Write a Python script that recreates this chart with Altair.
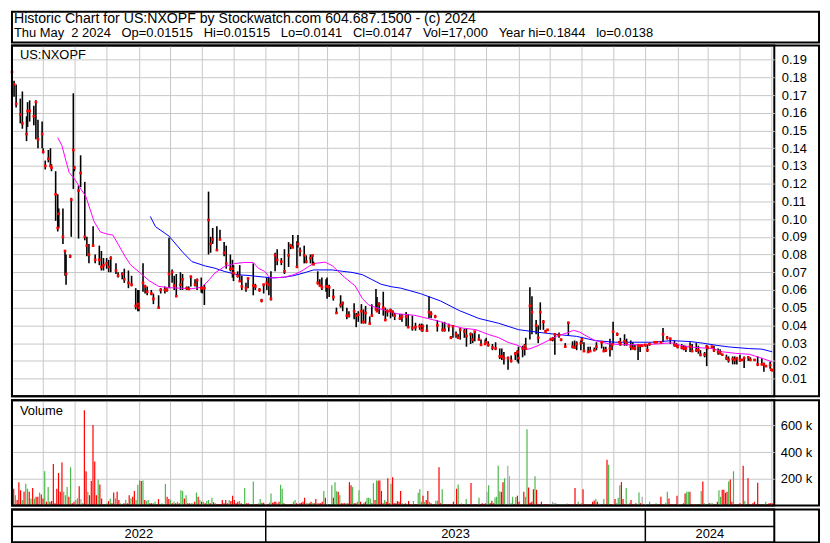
import altair as alt
import numpy as np
import pandas as pd

# ---------------- text ----------------
title_line = "Historic Chart for US:NXOPF by Stockwatch.com 604.687.1500 - (c) 2024"
quote_line = "Thu May  2 2024   Op=0.01515   Hi=0.01515   Lo=0.0141   Cl=0.0147   Vol=17,000   Year hi=0.1844   lo=0.0138"
symbol = "US:NXOPF"
volume_title = "Volume"

# ---------------- price bars (read per month, every ~2 trading days) ----------------
months = ["2022-05", "2022-06", "2022-07", "2022-08", "2022-09", "2022-10", "2022-11", "2022-12",
          "2023-01", "2023-02", "2023-03", "2023-04", "2023-05", "2023-06", "2023-07", "2023-08",
          "2023-09", "2023-10", "2023-11", "2023-12", "2024-01", "2024-02", "2024-03", "2024-04", "2024-05"]

bar_high = [
    [.1844, .178, .176, .168, .172, .158, .166, .167, .164, .167, .156, .155],
    [.140, .133, .139, .140, .131, .127, .114, .106, .106, .082, .080, .080, .112, .171],
    [.130, .119, .136, .121, .090, .086, .096, .080, .085, .082, .078],
    [.078, .077, .079, .075, .070, .070, .072, .071, .068, .061, .060],
    [.060, .075, .063, .062, .060, .058, .057, .061, .062, .061, .0895],
    [.0715, .068, .069, .070, .069, .062, .062, .068, .066, .0665, .067],
    [.062, .063, .1155, .090, .095, .096, .094, .087, .085, .080, .077],
    [.074, .0705, .074, .068, .064, .067, .075, .0635, .061, .055, .0635],
    [.067, .067, .0705, .081, .083, .078, .083, .087, .086, .091, .0875],
    [.091, .084, .085, .0795, .080, .0795, .076, .0705, .066, .067, .066],
    [.067, .063, .0605, .050, .057, .0535, .050, .048, .0525, .047, .048],
    [.052, .049, .051, .045, .052, .0605, .056, .053, .059, .050, .049],
    [.0495, .0485, .047, .0465, .0465, .0475, .0465, .0455, .0415, .041, .041],
    [.0405, .0405, .0565, .048, .046, .043, .042, .042, .041, .034, .0395],
    [.0365, .035, .0385, .038, .0385, .036, .0355, .0365, .035, .032, .032],
    [.033, .031, .0295, .0305, .027, .027, .025, .0225, .023, .025, .026],
    [.028, .0285, .0295, .033, .0615, .0565, .043, .040, .053, .043, .0375, .038],
    [.033, .0335, .035, .036, .0325, .030, .042, .031, .0315, .031, .0315],
    [.0335, .0305, .028, .028, .0275, .0305, .031, .028, .028, .0325, .030],
    [.042, .036, .031, .033, .035, .0325, .0315, .0305, .029, .0295, .029, .029],
    [.0295, .0295, .030, .031, .031, .031, .0385, .034, .033, .0315, .030],
    [.0295, .0295, .029, .0285, .0305, .0295, .030, .0285, .026, .025, .029],
    [.028, .0285, .0285, .027, .0265, .024, .0235, .0225, .0225, .0225, .022],
    [.0235, .021, .0225, .0225, .022, .021, .0225, .0215, .019, .0175, .0195],
    [.0155, .01515],
]
bar_low = [
    [.180, .169, .163, .154, .151, .144, .152, .155, .153, .145, .140, .140],
    [.137, .128, .132, .130, .127, .099, .093, .095, .086, .068, .063, .078, .090, .117],
    [.127, .089, .118, .088, .079, .075, .085, .075, .074, .071, .071],
    [.072, .070, .070, .069, .067, .066, .064, .061, .062, .049, .048],
    [.048, .059, .058, .057, .057, .052, .050, .058, .058, .059, .061],
    [.064, .060, .0565, .060, .060, .060, .060, .062, .062, .060, .0585],
    [.058, .0515, .080, .081, .086, .083, .088, .079, .072, .0705, .067],
    [.065, .067, .065, .060, .059, .061, .057, .060, .059, .053, .058],
    [.060, .057, .054, .0705, .074, .074, .069, .073, .083, .084, .073],
    [.084, .079, .075, .075, .075, .074, .074, .063, .062, .060, .059],
    [.055, .056, .054, .047, .050, .048, .0435, .0445, .0435, .039, .042],
    [.041, .041, .041, .041, .045, .049, .048, .0465, .0455, .043, .045],
    [.044, .045, .043, .043, .042, .0395, .0385, .037, .037, .0375, .0365],
    [.0365, .0365, .044, .044, .044, .0365, .0365, .0365, .0365, .033, .033],
    [.033, .033, .032, .033, .028, .0295, .030, .031, .032, .029, .0295],
    [.030, .028, .026, .026, .021, .0205, .018, .015, .019, .0205, .0195],
    [.0185, .022, .023, .0265, .032, .035, .035, .030, .0375, .0375, .036, .037],
    [.032, .031, .0235, .033, .031, .0275, .0345, .027, .027, .026, .026],
    [.0295, .025, .025, .025, .0255, .026, .027, .025, .025, .0225, .026],
    [.0295, .034, .030, .0285, .0285, .0285, .026, .027, .026, .0205, .025, .028],
    [.028, .025, .0285, .030, .030, .0295, .0305, .032, .0295, .028, .028],
    [.027, .0265, .026, .025, .025, .025, .025, .024, .0225, .022, .017],
    [.0265, .027, .025, .0235, .0235, .023, .0205, .019, .018, .018, .018],
    [.0195, .020, .016, .020, .020, .020, .017, .0175, .0138, .017, .0155],
    [.0145, .0141],
]
bar_close = [
    [.183, .176, .165, .159, .154, .148, .161, .161, .158, .166, .145, .148],
    [.138, .130, .134, .130, .129, .114, .095, .103, .090, .082, .069, .079, .111, .139],
    [.129, .116, .126, .090, .085, .080, .085, .077, .077, .073, .074],
    [.075, .073, .078, .071, .068, .069, .066, .064, .063, .051, .052],
    [.050, .064, .062, .059, .058, .055, .050, .060, .060, .060, .069],
    [.070, .0625, .0565, .063, .066, .061, .0605, .0675, .063, .0655, .061],
    [.061, .061, .0995, .086, .0885, .0825, .0885, .081, .075, .072, .072],
    [.0695, .068, .065, .062, .061, .0665, .0625, .062, .060, .054, .063],
    [.064, .063, .055, .0795, .077, .076, .0705, .0795, .085, .084, .073],
    [.086, .082, .0795, .076, .078, .0795, .0745, .064, .0625, .0615, .062],
    [.062, .0615, .056, .047, .0515, .0525, .0455, .0455, .048, .0455, .046],
    [.048, .042, .047, .041, .0455, .049, .048, .052, .050, .043, .048],
    [.0485, .0475, .0455, .044, .045, .045, .039, .0385, .039, .0395, .0375],
    [.0395, .037, .0475, .0465, .045, .040, .0375, .0375, .0395, .033, .0395],
    [.035, .033, .0375, .0365, .034, .035, .032, .0365, .032, .029, .0295],
    [.0305, .029, .0275, .027, .0225, .0225, .0215, .0215, .020, .024, .025],
    [.0215, .027, .0285, .027, .051, .0475, .040, .033, .0475, .042, .0365, .0375],
    [.032, .0325, .035, .0345, .032, .028, .0415, .028, .0275, .0295, .030],
    [.032, .0255, .025, .0255, .026, .028, .0305, .0255, .026, .027, .029],
    [.0365, .035, .0305, .0295, .031, .030, .028, .027, .027, .0285, .0285, .0285],
    [.029, .026, .0295, .0305, .0305, .0305, .035, .033, .0325, .029, .0285],
    [.028, .0275, .027, .027, .028, .0255, .026, .026, .0235, .0235, .028],
    [.0275, .028, .026, .025, .0245, .0235, .0215, .0205, .021, .0205, .0215],
    [.0205, .0205, .0215, .022, .0205, .0205, .018, .018, .018, .017, .0175],
    [.015, .0147],
]

# ---------------- moving averages ----------------
ma_fast_dates = [
    "2022-06-15", "2022-06-19", "2022-06-23", "2022-06-26", "2022-07-02", "2022-07-06", "2022-07-12",
    "2022-07-20", "2022-07-26", "2022-08-03", "2022-08-07", "2022-08-12", "2022-08-19", "2022-08-24",
    "2022-09-02", "2022-09-11", "2022-09-20", "2022-09-30", "2022-10-22", "2022-11-01", "2022-11-08",
    "2022-11-13", "2022-11-22", "2022-12-02", "2022-12-11", "2022-12-20", "2022-12-25", "2022-12-31",
    "2023-01-05", "2023-01-19", "2023-01-28", "2023-02-04", "2023-02-11", "2023-02-16", "2023-02-27",
    "2023-03-06", "2023-03-18", "2023-03-28", "2023-04-04", "2023-04-10", "2023-04-19", "2023-04-29",
    "2023-05-07", "2023-05-24", "2023-06-06", "2023-06-18", "2023-06-27", "2023-07-09", "2023-07-22",
    "2023-08-03", "2023-08-13", "2023-08-22", "2023-09-01", "2023-09-08", "2023-09-12", "2023-09-20",
    "2023-09-29", "2023-10-08", "2023-10-18", "2023-10-24", "2023-10-30", "2023-11-05", "2023-11-14",
    "2023-11-27", "2023-12-10", "2024-01-01", "2024-01-14", "2024-01-26", "2024-02-04", "2024-02-13",
    "2024-02-25", "2024-03-06", "2024-03-15", "2024-03-28", "2024-04-10", "2024-04-22", "2024-05-02",
]
ma_fast_values = [
    .146, .1415, .1326, .1263, .122, .118, .1128,
    .0985, .0927, .0913, .091, .0859, .0787, .0742,
    .0697, .0652, .062, .0613, .0607, .0616, .066,
    .0695, .0731, .0749, .0755, .0755, .0722, .0705,
    .0668, .0672, .0686, .0705, .0731, .0749, .0757,
    .0737, .067, .0623, .0551, .0515, .0497, .0479,
    .0466, .0457, .0439, .0421, .0403, .0385, .0376,
    .0349, .0331, .0304, .0286, .0264, .0268, .0286,
    .0313, .034, .0358, .0372, .0362, .0341, .0314,
    .0296, .0291, .0291, .0296, .0302, .0287, .0278,
    .0273, .0269, .0251, .0242, .0237, .0215, .0194,
]
ma_slow_dates = [
    "2022-09-12", "2022-09-17", "2022-09-30", "2022-10-13", "2022-10-22", "2022-11-04", "2022-11-13",
    "2022-11-22", "2022-12-05", "2022-12-17", "2022-12-31", "2023-01-09", "2023-01-19", "2023-01-28",
    "2023-02-06", "2023-02-16", "2023-03-06", "2023-03-16", "2023-03-25", "2023-04-04", "2023-04-13",
    "2023-04-22", "2023-05-02", "2023-05-11", "2023-05-30", "2023-06-18", "2023-07-06", "2023-07-25",
    "2023-08-13", "2023-09-01", "2023-09-20", "2023-10-08", "2023-10-27", "2023-11-14", "2023-12-03",
    "2023-12-20", "2024-01-08", "2024-01-26", "2024-02-13", "2024-02-25", "2024-03-10", "2024-03-22",
    "2024-04-10", "2024-04-22", "2024-05-02",
]
ma_slow_values = [
    .1015, .0957, .0904, .0814, .0760, .0735, .0723,
    .0705, .0686, .0681, .0672, .0668, .0672, .0681,
    .0695, .0713, .0713, .0705, .0699, .0686, .0659,
    .0632, .0618, .0610, .0579, .0538, .0484, .0439,
    .0412, .0376, .0361, .0349, .0338, .0314, .0305,
    .0305, .0305, .0314, .0309, .0300, .0287, .0278,
    .0269, .0266, .0251,
]

# ---------------- volume (thousands of shares) and direction: g=up r=down n=unchanged ----------------
vol_2022_k = [
    103, 127, 78, 42, 176, 115, 42, 103, 164, 127,
    103, 54, 132, 54, 66, 66, 98, 83, 54, 257,
    29, 140, 29, 34, 311, 17, 127, 245, 103, 323,
    103, 78, 140, 66, 287, 17, 29, 42, 54, 145,
    49, 17, 715, 257, 103, 78, 184, 605, 331, 78,
    196, 159, 54, 5, 5, 17, 34, 54, 17, 98,
    54, 103, 42, 17, 5, 17, 42, 17, 78, 54,
    66, 110, 42, 157, 189, 184, 189, 42, 34, 42,
    17, 17, 17, 29, 5, 49, 10, 17, 10, 162,
    66, 49, 42, 17, 29, 17, 29, 17, 115, 110,
    54, 78, 17, 17, 17, 17, 29, 98, 66, 42,
    29, 29, 17, 34, 42, 17, 59, 25, 17, 10,
    10, 10, 42, 17, 42, 17, 42, 34, 74, 42,
    17, 29, 34, 17, 10, 132, 17, 17, 10, 10,
    181, 10, 10, 17, 49, 22, 22,
]
vol_2022_dir = ("nrgrrrgrgg" "rgrgrrgrrg" "rgrrrrrrrr" "gggrgrrggr" "ngrrgrrrrr" "grrrrgrgrr" "grrgrrgrrg"
                "rrgggrgrgg" "rrggrrgggg" "rrgrgrgrgg" "rgrrggrgrg" "rgrggrgrgr" "rrrrrrgrrr" "rrgrrgrrgr" "grrggrr")
vol_2023_k = [
    10, 22, 91, 22, 29, 29, 17, 29, 157, 127,
    17, 10, 10, 5, 10, 10, 29, 42, 17, 10,
    17, 22, 29, 59, 17, 17, 17, 29, 17, 17,
    49, 17, 17, 17, 29, 110, 59, 5, 5, 10,
    152, 59, 176, 108, 103, 78, 17, 17, 17, 17,
    17, 176, 152, 140, 17, 17, 29, 115, 29, 10,
    17, 29, 59, 59, 54, 17, 169, 42, 189, 189,
    189, 110, 17, 42, 29, 206, 17, 164, 213, 17,
    17, 34, 29, 110, 17, 10, 17, 10, 34, 10,
    10, 34, 10, 10, 96, 123, 29, 74, 25, 42,
    110, 29, 17, 10, 10, 37, 37, 287, 17, 123,
    10, 10, 5, 10, 10, 5, 29, 10, 127, 159,
    10, 17, 10, 5, 49, 10, 10, 169, 5, 10,
    10, 5, 59, 10, 17, 10, 17, 103, 152, 17,
    37, 17, 61, 66, 299, 108, 103, 176, 206, 5,
    299, 221, 17, 66, 10, 64, 74, 29, 10, 5,
    103, 66, 573, 135, 22, 29, 123, 221, 118, 10,
    5, 29, 5, 10, 10, 5, 10, 5, 29, 22,
    17, 10, 5, 5, 10, 5, 10, 15, 10, 5,
    10, 5, 132, 10, 29, 10, 17, 123, 10, 10,
    5, 10, 10, 29, 39, 49, 29, 15, 5, 10,
    49, 5, 343, 306, 10, 10, 5, 49, 17, 59,
    152, 176, 49, 10, 132, 5, 17, 42, 10, 5,
    17, 10, 98, 17, 66,
]
vol_2023_dir = ("rggrrrgrgg" "rrggrrggrr" "rrrrggrrgr" "rgrrrgrrgg" "grggrgrrrg" "rrrgrrggrg" "rrgggrgrgr"
                "rrrgrrrgrr" "rrrrgrrgrr" "ggrrgggrgr" "rgrgrggrrg" "rrrrrrrrrg" "rgrrgrgrrr" "rggrrrrngr"
                "rrggggrrgr" "nnggrgrrgr" "rggrrrrgrr" "rrrrrrrrnn" "grgrgrggrr" "rgrrgrgrrr" "rrrrrgrnrr"
                "grrgrrrrgg" "grrrgrgrrr" "rggrn")
vol_2024_k = [
    5, 5, 29, 10, 5, 10, 17, 5, 10, 66,
    10, 10, 22, 103, 54, 10, 10, 5, 10, 74,
    5, 10, 10, 17, 91, 103, 103, 103, 10, 5,
    10, 10, 10, 10, 110, 181, 17, 10, 10, 17,
    22, 17, 10, 5, 29, 115, 66, 118, 118, 96,
    103, 181, 196, 29, 257, 10, 5, 10, 17, 10,
    299, 34, 5, 206, 10, 5, 17, 29, 5, 172,
    10, 5, 10, 10, 29, 10, 17, 17, 17,
]
vol_2024_dir = ("rrggrrgrrr" "rgggrrrgrr" "rgrrrggrrr" "rgrrgrggrr" "ngrgrggrrr" "rgrrgrrrrr" "rgrrrrrrrr" "rrrggrrrr")
vol_segments = [("2022-05-02", "2022-12-30"), ("2023-01-03", "2023-12-29"), ("2024-01-02", "2024-05-02")]

# ---------------- axes ----------------
price_ticks = [0.01, 0.02, 0.03, 0.04, 0.05, 0.06, 0.07, 0.08, 0.09, 0.10,
               0.11, 0.12, 0.13, 0.14, 0.15, 0.16, 0.17, 0.18, 0.19]
volume_ticks = [200000, 400000, 600000]
year_labels = ["2022", "2023", "2024"]
year_bounds = ["2022-05-02", "2023-01-01", "2024-01-01", "2024-05-04"]

# ---------------- build tables ----------------
first_day = pd.Timestamp("2022-05-02")
last_day = pd.Timestamp("2024-05-02")
rows = []
for m, hs, ls, cs in zip(months, bar_high, bar_low, bar_close):
    mstart = pd.Timestamp(m + "-01")
    mend = mstart + pd.offsets.MonthEnd(0)
    bd = pd.bdate_range(max(mstart, first_day), min(mend, last_day))
    n = min(len(hs), len(ls), len(cs))
    idx = np.linspace(0, len(bd) - 1, n).round().astype(int)
    for k in range(n):
        rows.append({"date": bd[idx[k]].strftime("%Y-%m-%d"), "high": hs[k], "low": ls[k], "close": cs[k]})
price_df = pd.DataFrame(rows)

fast_df = pd.DataFrame({"date": ma_fast_dates, "value": ma_fast_values})
slow_df = pd.DataFrame({"date": ma_slow_dates, "value": ma_slow_values})

vol_parts = []
for (a, b), vals, dirs in zip(vol_segments, [vol_2022_k, vol_2023_k, vol_2024_k],
                               [vol_2022_dir, vol_2023_dir, vol_2024_dir]):
    n = min(len(vals), len(dirs))
    d = pd.date_range(a, b, periods=n)
    vol_parts.append(pd.DataFrame({"date": d.strftime("%Y-%m-%dT%H:%M:%SZ"),
                                   "volume": np.array(vals[:n]) * 1000,
                                   "dir": list(dirs[:n])}))
vol_df = pd.concat(vol_parts, ignore_index=True)

yb = [pd.Timestamp(s) for s in year_bounds]
year_df = pd.DataFrame({"label": year_labels,
                        "date": [(yb[i] + (yb[i + 1] - yb[i]) / 2).strftime("%Y-%m-%dT%H:%M:%SZ") for i in range(3)]})
year_line_df = pd.DataFrame({"date": year_bounds[1:3]})


def ms(ts):
    return int(pd.Timestamp(ts).value // 10**6)


month_starts = [ms(d) for d in pd.date_range("2022-06-01", "2024-05-01", freq="MS")]

# ---------------- layout ----------------
W = 767
FULL = 812
H_HEAD, H_PRICE, H_VOL, H_BAND = 31, 353, 106, 33
FONT = "Liberation Sans"

xscale = alt.Scale(type="utc", domain=[ms("2022-05-02"), ms("2024-05-04")])
xgrid = alt.Axis(values=month_starts, grid=True, labels=False, ticks=False, domain=False, title=None)
yprice = alt.Scale(domain=[0, 0.198], nice=False, zero=False)
yprice_axis = alt.Axis(orient="right", values=price_ticks, format=".2f", grid=True, ticks=False,
                       domain=False, title=None, labelPadding=7)
yvol = alt.Scale(domain=[0, 790000], nice=False)
yvol_axis = alt.Axis(orient="right", values=volume_ticks, labelExpr="format(datum.value / 1000, 'd') + ' k'",
                     grid=True, ticks=False, domain=False, title=None, labelPadding=6)

one = pd.DataFrame({"k": [0]})


def frame(h):
    return alt.Chart(one).mark_rect(fillOpacity=0, stroke="black", strokeWidth=2).encode(
        x=alt.value(0), x2=alt.value(FULL), y=alt.value(0), y2=alt.value(h))


# header
hdr1 = alt.Chart(pd.DataFrame({"t": [title_line]})).mark_text(
    align="left", baseline="middle", fontSize=14.2, font=FONT, color="black").encode(
    x=alt.value(2), y=alt.value(7.5), text="t:N")
hdr2 = alt.Chart(pd.DataFrame({"t": [quote_line.replace(" ", "\u00a0")]})).mark_text(
    align="left", baseline="middle", fontSize=13, font=FONT, color="black").encode(
    x=alt.value(2), y=alt.value(22), text="t:N")
header = alt.layer(hdr1, hdr2).properties(width=FULL, height=H_HEAD)

# price
pbase = alt.Chart(price_df)
bars = pbase.mark_rule(color="black", strokeWidth=1.6).encode(
    x=alt.X("date:T", scale=xscale, axis=xgrid),
    y=alt.Y("low:Q", scale=yprice, axis=yprice_axis),
    y2="high:Q")
fast = alt.Chart(fast_df).mark_line(color="#ff00ff", strokeWidth=1).encode(
    x=alt.X("date:T", scale=xscale, axis=xgrid),
    y=alt.Y("value:Q", scale=yprice, axis=yprice_axis))
slow = alt.Chart(slow_df).mark_line(color="#0000ff", strokeWidth=1).encode(
    x=alt.X("date:T", scale=xscale, axis=xgrid),
    y=alt.Y("value:Q", scale=yprice, axis=yprice_axis))
closes = pbase.mark_square(color="#ff0000", size=7, opacity=1).encode(
    x=alt.X("date:T", scale=xscale, axis=xgrid),
    y=alt.Y("close:Q", scale=yprice, axis=yprice_axis))
sym = alt.Chart(pd.DataFrame({"t": [symbol]})).mark_text(
    align="left", baseline="middle", fontSize=13, font=FONT, color="black").encode(
    x=alt.value(8), y=alt.value(10), text="t:N")
price = alt.layer(bars, slow, fast, closes, sym, frame(H_PRICE)).properties(width=W, height=H_PRICE)

# volume
vbars = alt.Chart(vol_df).mark_rule(strokeWidth=1.2).encode(
    x=alt.X("date:T", scale=xscale, axis=xgrid),
    y=alt.Y("volume:Q", scale=yvol, axis=yvol_axis),
    y2=alt.datum(0),
    color=alt.Color("dir:N", scale=alt.Scale(domain=["g", "r", "n"],
                                             range=["#4cb84c", "#ff0000", "#a8a8a8"]), legend=None))
vtitle = alt.Chart(pd.DataFrame({"t": [volume_title]})).mark_text(
    align="left", baseline="middle", fontSize=13, font=FONT, color="black").encode(
    x=alt.value(8), y=alt.value(11), text="t:N")
volume = alt.layer(vbars, vtitle, frame(H_VOL)).properties(width=W, height=H_VOL)

# date band
ytext = alt.Chart(year_df).mark_text(fontSize=13, font=FONT, color="black", baseline="middle").encode(
    x=alt.X("date:T", scale=xscale, axis=None), y=alt.value(25), text="label:N")
ylines = alt.Chart(year_line_df).mark_rule(color="black", strokeWidth=1.5).encode(
    x=alt.X("date:T", scale=xscale, axis=None), y=alt.value(0), y2=alt.value(H_BAND))
midline = alt.Chart(one).mark_rule(color="black", strokeWidth=1.5).encode(
    x=alt.value(0), x2=alt.value(W), y=alt.value(17))
band = alt.layer(ytext, ylines, midline, frame(H_BAND)).properties(width=W, height=H_BAND)

chart = alt.vconcat(header, price, volume, band, spacing=0).properties(
    padding={"left": 1, "top": 1, "right": 1, "bottom": 1}, background="white"
).configure(
    font=FONT,
    view=alt.ViewConfig(stroke="black", strokeWidth=2),
    axis=alt.AxisConfig(labelFont=FONT, labelFontSize=13, labelColor="black",
                        gridColor="#c8c8c8", gridWidth=1),
)

chart.save("out.html", embed_options={"renderer": "svg", "actions": False})
